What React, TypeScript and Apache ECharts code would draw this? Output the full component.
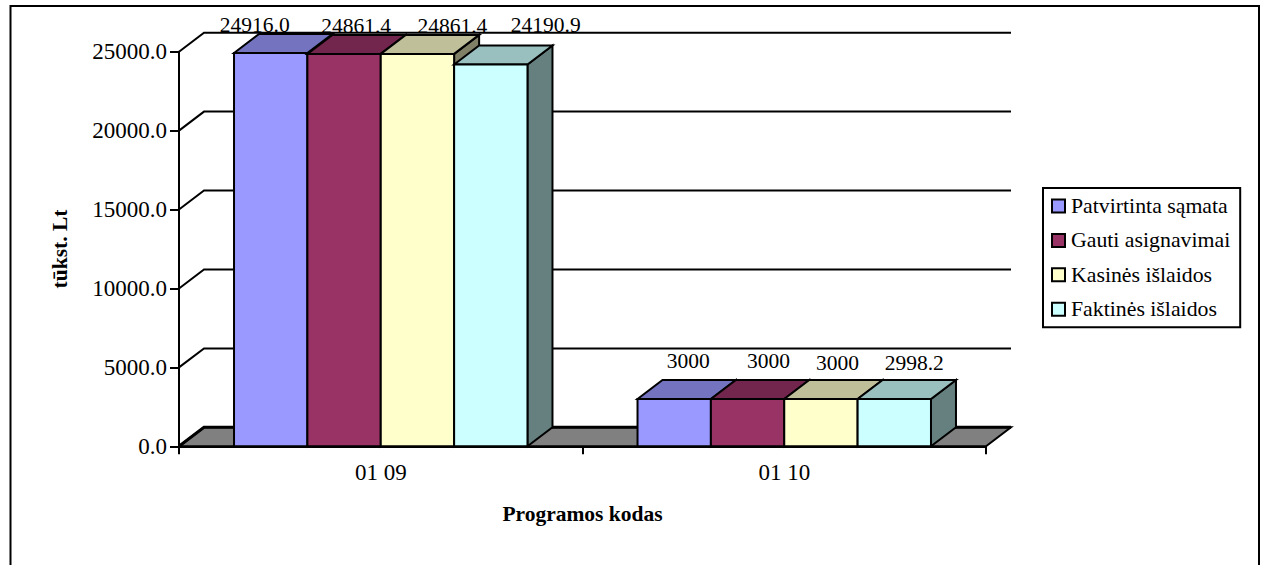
import React, { useEffect, useRef } from "react";
import * as echarts from "echarts";

const categories = ["01 09", "01 10"];
const seriesNames = ["Patvirtinta sąmata", "Gauti asignavimai", "Kasinės išlaidos", "Faktinės išlaidos"];
const patvirtinta = [24916.0, 3000];
const gauti = [24861.4, 3000];
const kasines = [24861.4, 3000];
const faktines = [24190.9, 2998.2];
const patvirtintaLabels = ["24916.0", "3000"];
const gautiLabels = ["24861.4", "3000"];
const kasinesLabels = ["24861.4", "3000"];
const faktinesLabels = ["24190.9", "2998.2"];
const yTicks = [0, 5000, 10000, 15000, 20000, 25000];

const seriesValues = [patvirtinta, gauti, kasines, faktines];
const seriesLabels = [patvirtintaLabels, gautiLabels, kasinesLabels, faktinesLabels];
const frontColors = ["#9999FF", "#993366", "#FFFFCC", "#CCFFFF"];
const topColors = ["#7373BF", "#73264D", "#BFBF99", "#99BFBF"];
const sideColors = ["#4D4D80", "#4D1A33", "#808066", "#668080"];

const DX = 25;
const DY = 19;
const FONT = '"Liberation Serif", "Times New Roman", serif';
const LW = 2;
// hand-placed label offsets from the centre of each bar's front top edge
const labelNudgeX = [[-16, 14], [12, 21], [35, 16.5], [55, 20]];
const labelNudgeY = [[-28, -38], [-28, -38], [-28, -36], [-39, -36]];

const stroke = { stroke: "#000", lineWidth: LW };

export default function App() {
  const ref = useRef<HTMLDivElement>(null);
  useEffect(() => {
    const chart = echarts.init(ref.current!, null, { renderer: "svg" });

    const wall: any = {
      type: "custom",
      coordinateSystem: "cartesian2d",
      silent: true,
      z: 1,
      data: yTicks.map((t) => [0, t]),
      renderItem: (params: any, api: any) => {
        const cs = params.coordSys;
        const y = api.coord([0, api.value(1)])[1];
        const children: any[] = [];
        if (api.value(1) === 0) {
          children.push({
            type: "polygon",
            shape: { points: [[cs.x, y], [cs.x + DX, y - DY], [cs.x + cs.width + DX, y - DY], [cs.x + cs.width, y]] },
            style: { fill: "#808080", ...stroke },
          });
        }
        children.push({
          type: "polyline",
          shape: { points: [[cs.x, y], [cs.x + DX, y - DY], [cs.x + cs.width + DX, y - DY]] },
          style: { fill: "none", stroke: "#000", lineWidth: api.value(1) === 0 ? 3 : LW },
        });
        return { type: "group", children };
      },
    };

    const bars: any[] = seriesNames.map((name, si) => ({
      name,
      type: "custom",
      coordinateSystem: "cartesian2d",
      silent: true,
      z: 2 + si,
      itemStyle: { color: frontColors[si], borderColor: "#000", borderWidth: LW },
      data: seriesValues[si].map((v, ci) => [ci, v]),
      renderItem: (params: any, api: any) => {
        const ci = api.value(0);
        const [cx, top] = api.coord([ci, api.value(1)]);
        const base = api.coord([ci, 0])[1];
        const barW = api.size([1, 0])[0] / (seriesNames.length + 1.5);
        const x0 = cx + (si - seriesNames.length / 2) * barW;
        const x1 = x0 + barW;
        return {
          type: "group",
          children: [
            {
              type: "polygon",
              shape: { points: [[x1, top], [x1 + DX, top - DY], [x1 + DX, base - DY], [x1, base]] },
              style: { fill: sideColors[si], ...stroke },
            },
            {
              type: "polygon",
              shape: { points: [[x0, top], [x0 + DX, top - DY], [x1 + DX, top - DY], [x1, top]] },
              style: { fill: topColors[si], ...stroke },
            },
            {
              type: "rect",
              shape: { x: x0, y: top, width: barW, height: base - top },
              style: { fill: frontColors[si], ...stroke },
            },
            {
              type: "text",
              z2: 100,
              x: (x0 + x1) / 2 + labelNudgeX[si][ci],
              y: top + labelNudgeY[si][ci],
              style: {
                text: seriesLabels[si][ci],
                fill: "#000",
                font: `21.5px ${FONT}`,
                align: "center",
                verticalAlign: "middle",
              },
            },
          ],
        };
      },
    }));

    chart.setOption({
      animation: false,
      backgroundColor: "#fff",
      grid: { left: 179, right: 277, top: 51.7, bottom: 118.7, containLabel: false },
      xAxis: {
        type: "category",
        data: categories,
        boundaryGap: true,
        axisLine: { show: true, lineStyle: { color: "#000", width: LW } },
        axisTick: { show: true, length: 8, alignWithLabel: false, lineStyle: { color: "#000", width: LW } },
        axisLabel: { color: "#000", fontFamily: FONT, fontSize: 23, margin: 15 },
        name: "Programos kodas",
        nameLocation: "middle",
        nameGap: 57,
        nameTextStyle: { color: "#000", fontFamily: FONT, fontSize: 21.5, fontWeight: "bold" },
      },
      yAxis: {
        type: "value",
        min: 0,
        max: 25000,
        interval: 5000,
        splitLine: { show: false },
        axisLine: { show: true, lineStyle: { color: "#000", width: LW } },
        axisTick: { show: true, length: 9, lineStyle: { color: "#000", width: LW } },
        axisLabel: { color: "#000", fontFamily: FONT, fontSize: 23, margin: 12, formatter: (v: number) => v.toFixed(1) },
        name: "tūkst. Lt",
        nameLocation: "middle",
        nameGap: 108,
        nameRotate: 90,
        nameTextStyle: { color: "#000", fontFamily: FONT, fontSize: 21.5, fontWeight: "bold" },
      },
      legend: {
        orient: "vertical",
        left: 1043,
        top: 188,
        data: seriesNames.map((name, i) => ({
          name,
          icon: "rect",
          itemStyle: { color: frontColors[i], borderColor: "#000", borderWidth: LW },
        })),
        itemWidth: 13,
        itemHeight: 13,
        itemGap: 12.4,
        padding: [7, 10, 7, 8],
        borderColor: "#000",
        borderWidth: LW,
        backgroundColor: "#fff",
        selectedMode: false,
        textStyle: { color: "#000", fontFamily: FONT, fontSize: 21.8, padding: [0, 0, 0, 1] },
      },
      graphic: [
        {
          type: "polyline",
          silent: true,
          shape: { points: [[10.5, 570], [10.5, 6], [1259, 6], [1259, 570]] },
          style: { fill: "none", stroke: "#000", lineWidth: LW },
        },
      ],
      series: [wall, ...bars],
    });
    return () => chart.dispose();
  }, []);
  return <div ref={ref} style={{ position: "absolute", left: 0, top: 0, width: 1263, height: 565 }} />;
}
